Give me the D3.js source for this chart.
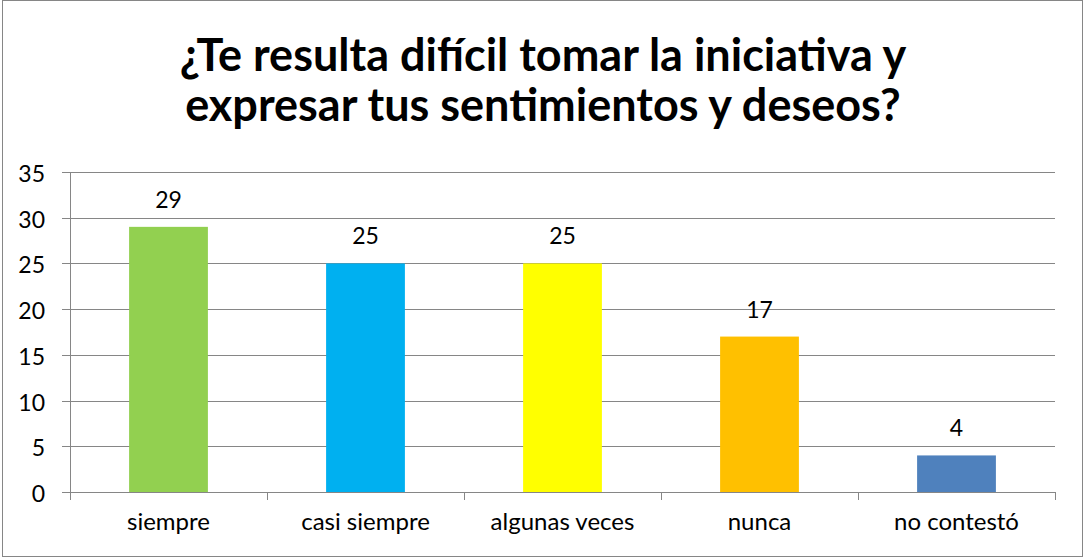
<!DOCTYPE html>
<html>
<head>
<meta charset="utf-8">
<script src="https://cdn.jsdelivr.net/npm/d3@7"></script>
<style>
  body { margin: 0; background: #fff; }
  text { font-family: Lato, "Open Sans", sans-serif; fill: #000; }
  .grid-line { stroke: #868686; stroke-width: 1; }
  .axis-line { stroke: #868686; stroke-width: 1; }
</style>
</head>
<body>
<div id="chart"></div>
<script>
const categories = ["siempre", "casi siempre", "algunas veces", "nunca", "no contestó"];
const values = [29, 25, 25, 17, 4];
const barColors = ["#92D050", "#00B0F0", "#FFFF00", "#FFC000", "#4F81BD"];
const yTickValues = [0, 5, 10, 15, 20, 25, 30, 35];
const titleLines = ["¿Te resulta difícil tomar la iniciativa y", "expresar tus sentimientos y deseos?"];

const width = 1084;
const height = 558;
const margin = { top: 172, right: 29, bottom: 66, left: 70 };

const svg = d3.select("#chart")
  .append("svg")
  .attr("width", width)
  .attr("height", height);

// chart border
svg.append("rect")
  .attr("x", 2.5)
  .attr("y", 0.5)
  .attr("width", width - 4)
  .attr("height", height - 2)
  .attr("fill", "#fff")
  .attr("stroke", "#868686");

const xScale = d3.scaleBand()
  .domain(categories)
  .range([margin.left, width - margin.right])
  .paddingInner(0.6)
  .paddingOuter(0.3);

const yScale = d3.scaleLinear()
  .domain([0, 35])
  .range([height - margin.bottom, margin.top]);

// gridlines + y tick labels
const yTicks = svg.selectAll(".y-tick")
  .data(yTickValues)
  .enter()
  .append("g")
  .attr("transform", (d) => `translate(0, ${Math.round(yScale(d)) + 0.5})`);

yTicks.append("line")
  .attr("class", "grid-line")
  .attr("x1", margin.left - 8)
  .attr("x2", width - margin.right);

yTicks.append("text")
  .attr("x", 45)
  .attr("text-anchor", "end")
  .attr("dominant-baseline", "central")
  .attr("font-size", 23)
  .text((d) => d);

// y axis
svg.append("line")
  .attr("class", "axis-line")
  .attr("x1", margin.left + 0.5)
  .attr("x2", margin.left + 0.5)
  .attr("y1", yScale(35))
  .attr("y2", yScale(0));

// x tick marks at category boundaries
const step = xScale.step();
const boundaries = d3.range(categories.length + 1).map((i) => margin.left + i * step);
svg.selectAll(".x-tick")
  .data(boundaries)
  .enter()
  .append("line")
  .attr("class", "axis-line")
  .attr("x1", (d) => Math.round(d) + 0.5)
  .attr("x2", (d) => Math.round(d) + 0.5)
  .attr("y1", yScale(0))
  .attr("y2", yScale(0) + 8);

// bars
svg.selectAll(".bar")
  .data(values)
  .enter()
  .append("rect")
  .attr("x", (d, i) => xScale(categories[i]))
  .attr("y", (d) => yScale(d))
  .attr("width", xScale.bandwidth())
  .attr("height", (d) => yScale(0) - yScale(d))
  .attr("fill", (d, i) => barColors[i]);

// data labels
svg.selectAll(".value-label")
  .data(values)
  .enter()
  .append("text")
  .attr("x", (d, i) => xScale(categories[i]) + xScale.bandwidth() / 2)
  .attr("y", (d) => yScale(d) - 19)
  .attr("text-anchor", "middle")
  .attr("font-size", 23)
  .text((d) => d);

// category labels
svg.selectAll(".cat-label")
  .data(categories)
  .enter()
  .append("text")
  .attr("x", (d) => xScale(d) + xScale.bandwidth() / 2)
  .attr("y", 530)
  .attr("text-anchor", "middle")
  .attr("font-size", 24)
  .text((d) => d);

// title
svg.selectAll(".title")
  .data(titleLines)
  .enter()
  .append("text")
  .attr("x", 543)
  .attr("y", (d, i) => 71 + i * 50)
  .attr("text-anchor", "middle")
  .attr("font-size", 45)
  .attr("font-weight", "bold")
  .text((d) => d);
</script>
</body>
</html>
